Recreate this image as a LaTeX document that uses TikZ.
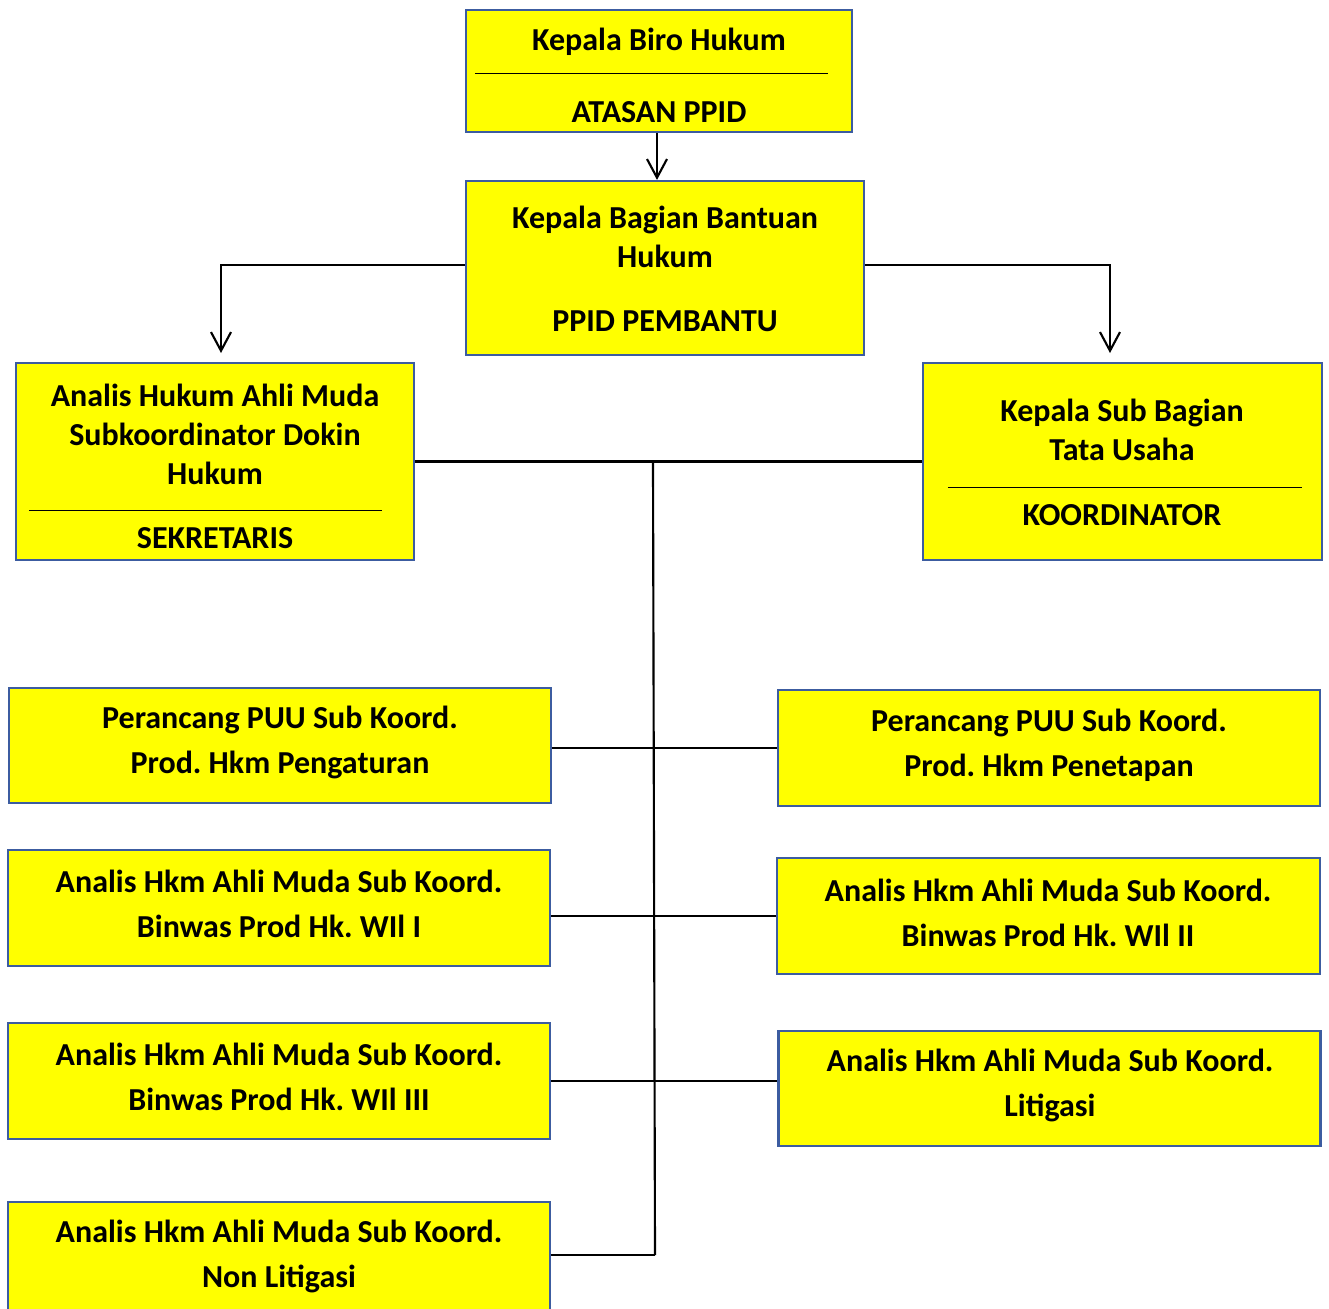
\documentclass[tikz,border=0pt]{standalone}
\usepackage{fontspec}
\setmainfont{Carlito}
\frenchspacing
\usetikzlibrary{arrows.meta}
\definecolor{boxblue}{RGB}{60,92,160}
\definecolor{boxyellow}{RGB}{255,255,0}

\begin{document}
\begin{tikzpicture}[x=0.75pt,y=-0.75pt,
	box/.style 2 args={draw=boxblue,fill=boxyellow,line width=1.6pt,rectangle,inner sep=0pt,minimum width=#1*0.75pt,minimum height=#2*0.75pt},
	txt/.style={align=center,inner sep=0pt,font=\bfseries\fontsize{24}{29.25}\selectfont},
	txtwide/.style={txt,font=\bfseries\fontsize{24}{33.75}\selectfont},
	sep/.style={line width=0.75pt},
	link/.style={line width=1.6pt}]
	\useasboundingbox (0,0) rectangle (1329,1309);
			\node[box={386}{122}] (biro)at(659,71) {};
			\node[box={398}{174}] (bantuan)at(665,268) {};
			\node[box={398}{197}] (dokin)at(215,461.5) {};
			\node[box={399}{197}] (tu)at(1122.5,461.5) {};
			\node[box={542}{115}] (pengaturan)at(280,745.5) {};
			\node[box={542}{116}] (penetapan)at(1049,748) {};
			\node[box={542}{116}] (wil1)at(279,908) {};
			\node[box={543}{116}] (wil2)at(1048.5,916) {};
			\node[box={542}{116}] (wil3)at(279,1081) {};
			\node[box={542}{115}] (litigasi)at(1049.5,1088.5) {};
			\node[box={542}{120}] (nonlit)at(279,1262) {};
			\node[txt] (biro-name)at(659,42) {Kepala Biro Hukum};
			\node[txt] (biro-role)at(659,112) {ATASAN PPID};
			\node[txt] (bantuan-name)at(665,237) {Kepala Bagian Bantuan\\Hukum};
			\node[txt] (bantuan-role)at(665,321) {PPID PEMBANTU};
			\node[txt] (dokin-name)at(215,434) {Analis Hukum Ahli Muda\\Subkoordinator Dokin\\Hukum};
			\node[txt] (dokin-role)at(215,538) {SEKRETARIS};
			\node[txt] (tu-name)at(1122,430) {Kepala Sub Bagian\\Tata Usaha};
			\node[txt] (tu-role)at(1122,515) {KOORDINATOR};
			\node[txtwide] (pengaturan-name)at(280,742) {Perancang PUU Sub Koord.\\Prod. Hkm Pengaturan};
			\node[txtwide] (penetapan-name)at(1049,745) {Perancang PUU Sub Koord.\\Prod. Hkm Penetapan};
			\node[txtwide] (wil1-name)at(279,904) {Analis Hkm Ahli Muda Sub Koord.\\Binwas Prod Hk. WIl I};
			\node[txtwide] (wil2-name)at(1048,913) {Analis Hkm Ahli Muda Sub Koord.\\Binwas Prod Hk. WIl II};
			\node[txtwide] (wil3-name)at(279,1077) {Analis Hkm Ahli Muda Sub Koord.\\Binwas Prod Hk. WIl III};
			\node[txtwide] (litigasi-name)at(1050,1085) {Analis Hkm Ahli Muda Sub Koord.\\Litigasi};
			\node[txtwide] (nonlit-name)at(279,1256.5) {Analis Hkm Ahli Muda Sub Koord.\\Non Litigasi};
			\coordinate (dokin-in)at(221,353);
			\coordinate (tu-in)at(1110,353);
			\coordinate (spine-top)at(653,463);
			\coordinate (spine-bot)at(655,1255);
			\draw[sep] ([xshift=10*0.75pt]biro.west |- 0,74) -- ([xshift=-25*0.75pt]biro.east |- 0,74);
			\draw[sep] ([xshift=14*0.75pt]dokin.west |- 0,510) -- ([xshift=-33*0.75pt]dokin.east |- 0,510);
			\draw[sep] ([xshift=26*0.75pt]tu.west |- 0,487) -- ([xshift=-21*0.75pt]tu.east |- 0,487);
			\draw[link,-{Straight Barb[length=14pt,width=15pt]}] ([xshift=-2*0.75pt]biro.south) -- ([xshift=-2*0.75pt]biro.south |- bantuan.north);
			\draw[link,-{Straight Barb[length=14pt,width=15pt]}] ([yshift=2.25pt]bantuan.west) -| (dokin-in);
			\draw[link,-{Straight Barb[length=14pt,width=15pt]}] ([yshift=2.25pt]bantuan.east) -| (tu-in);
			\draw[link] (dokin.east) -- (tu.west);
			\draw[link] (spine-top) -- (spine-bot);
			\draw[link] (penetapan.west) -- (penetapan.west -| pengaturan.east);
			\draw[link] (wil2.west) -- (wil2.west -| wil1.east);
			\draw[link] (wil3.east) -- (wil3.east -| litigasi.west);
			\draw[link] (spine-bot) -- (spine-bot -| nonlit.east);
		\end{tikzpicture}
\end{document}
